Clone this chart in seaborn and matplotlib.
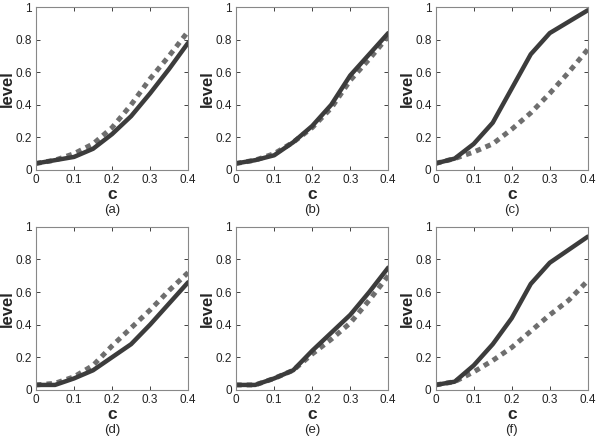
import matplotlib
matplotlib.use("Agg")
import matplotlib.pyplot as plt
import pandas as pd
import seaborn as sns

sns.set_theme(style="ticks")
plt.rcParams["font.family"] = ["Liberation Sans", "DejaVu Sans"]

# x values shared by all panels
c_vals = [0, 0.05, 0.1, 0.15, 0.2, 0.25, 0.3, 0.35, 0.4]

# solid / dashed curves for each panel
a_solid = [0.04, 0.06, 0.08, 0.13, 0.22, 0.33, 0.47, 0.62, 0.78]
a_dash = [0.04, 0.06, 0.10, 0.16, 0.26, 0.40, 0.56, 0.70, 0.85]
b_solid = [0.04, 0.06, 0.09, 0.17, 0.27, 0.40, 0.58, 0.71, 0.84]
b_dash = [0.04, 0.06, 0.10, 0.17, 0.26, 0.38, 0.55, 0.68, 0.82]
c_solid = [0.04, 0.07, 0.16, 0.29, 0.50, 0.71, 0.84, 0.91, 0.98]
c_dash = [0.04, 0.07, 0.11, 0.16, 0.25, 0.35, 0.47, 0.60, 0.74]
d_solid = [0.03, 0.03, 0.07, 0.12, 0.20, 0.28, 0.40, 0.53, 0.66]
d_dash = [0.03, 0.04, 0.08, 0.15, 0.27, 0.38, 0.49, 0.61, 0.72]
e_solid = [0.03, 0.03, 0.07, 0.12, 0.24, 0.35, 0.46, 0.60, 0.75]
e_dash = [0.03, 0.03, 0.07, 0.12, 0.22, 0.31, 0.41, 0.55, 0.70]
f_solid = [0.03, 0.05, 0.15, 0.28, 0.44, 0.65, 0.78, 0.86, 0.94]
f_dash = [0.03, 0.05, 0.11, 0.18, 0.26, 0.36, 0.46, 0.55, 0.67]

panels = [
    ("(a)", a_solid, a_dash),
    ("(b)", b_solid, b_dash),
    ("(c)", c_solid, c_dash),
    ("(d)", d_solid, d_dash),
    ("(e)", e_solid, e_dash),
    ("(f)", f_solid, f_dash),
]

fig = plt.figure(figsize=(6.01, 4.38), dpi=100)

lefts = [0.060, 0.393, 0.725]
bottoms = [0.612, 0.110]
w, h = 0.253, 0.372

for i, (tag, solid, dash) in enumerate(panels):
    ax = fig.add_axes([lefts[i % 3], bottoms[i // 3], w, h])
    df = pd.DataFrame({
        "c": c_vals * 2,
        "level": solid + dash,
        "kind": ["solid"] * len(c_vals) + ["dash"] * len(c_vals),
    })
    # dashed first so the solid sits on top
    sns.lineplot(data=df[df["kind"] == "dash"], x="c", y="level", ax=ax,
                 color="#6e6e6e", linewidth=3.6)
    ax.lines[-1].set_dashes((1.1, 1.0))
    ax.lines[-1].set_dash_capstyle("butt")
    sns.lineplot(data=df[df["kind"] == "solid"], x="c", y="level", ax=ax,
                 color="#3c3c3c", linewidth=3.2)

    ax.set_xlim(0, 0.4)
    ax.set_ylim(0, 1)
    ax.set_xticks([0, 0.1, 0.2, 0.3, 0.4])
    ax.set_xticklabels(["0", "0.1", "0.2", "0.3", "0.4"])
    ax.set_yticks([0, 0.2, 0.4, 0.6, 0.8, 1])
    ax.set_yticklabels(["0", "0.2", "0.4", "0.6", "0.8", "1"])
    ax.tick_params(direction="in", length=3, width=0.6, labelsize=8.5,
                   top=True, right=True, pad=3, colors="#222222")
    for sp in ax.spines.values():
        sp.set_color("#888888")
        sp.set_linewidth(0.8)
    ax.set_xlabel("c", fontsize=12.5, fontweight="bold", labelpad=0.5)
    ax.set_ylabel("level", fontsize=12, fontweight="bold")
    ax.yaxis.set_label_coords(-0.14, 0.5)
    ax.text(0.5, -0.245, tag, transform=ax.transAxes, ha="center",
            va="center", fontsize=9.5)

fig.savefig("out.png", dpi=100)
